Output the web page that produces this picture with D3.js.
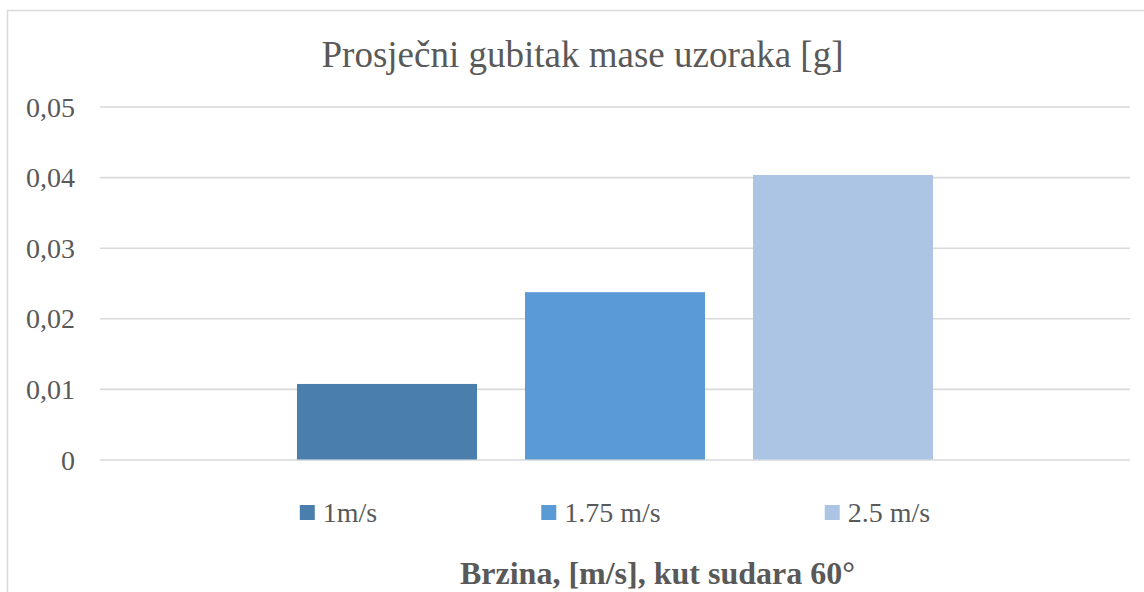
<!DOCTYPE html>
<html><head><meta charset="utf-8">
<script src="https://cdn.jsdelivr.net/npm/d3@7/dist/d3.min.js"></script>
<style>
html,body{margin:0;padding:0;background:#fff;}
svg{display:block;}
text{font-family:"Liberation Serif","Times New Roman",serif;fill:#595959;}
</style></head>
<body>
<svg id="chart" width="1144" height="592"></svg>
<script>
const categories = [""];
const seriesNames = ["1m/s", "1.75 m/s", "2.5 m/s"];
const seriesValues = [0.0107, 0.0237, 0.0403];
const seriesColors = ["#4a7ead", "#5a9ad5", "#adc5e5"];
const yTicks = [0, 0.01, 0.02, 0.03, 0.04, 0.05];
const yTickLabels = ["0", "0,01", "0,02", "0,03", "0,04", "0,05"];
const title = "Prosječni gubitak mase uzoraka [g]";
const xTitle = "Brzina, [m/s], kut sudara 60°";

const svg = d3.select("#chart");
const W = 1144, H = 592;
const plot = {left: 100, right: 1130, top: 106.5, bottom: 459.5};

// chart border
svg.append("rect").attr("x", 7.5).attr("y", 10.5).attr("width", W + 10).attr("height", H + 10)
  .attr("fill", "#fff").attr("stroke", "#d9d9d9").attr("stroke-width", 1.5);

const y = d3.scaleLinear().domain([0, 0.05]).range([plot.bottom, plot.top]);
const x0 = d3.scaleBand().domain(categories).range([plot.left, plot.right])
  .paddingInner(0).paddingOuter(0.3097);
const x1 = d3.scaleBand().domain(seriesNames).range([0, x0.bandwidth()])
  .paddingInner(0.2105).paddingOuter(0);

// gridlines
const yAxis = d3.axisLeft(y).tickValues(yTicks)
  .tickSize(-(plot.right - plot.left)).tickPadding(25)
  .tickFormat((d, i) => yTickLabels[i]);
const gy = svg.append("g").attr("transform", `translate(${plot.left},0)`).call(yAxis);
gy.attr("font-family", null);
gy.select(".domain").remove();
gy.selectAll(".tick line").attr("stroke", "#d9d9d9").attr("stroke-width", 1.6);
gy.selectAll(".tick text").attr("font-size", 28).attr("fill", "#595959").attr("dy", "0.34em");

// bars
const g = svg.append("g");
categories.forEach(c => {
  g.selectAll("rect.bar").data(seriesNames).enter().append("rect")
    .attr("class", "bar")
    .attr("x", s => x0(c) + x1(s))
    .attr("width", x1.bandwidth())
    .attr("y", (s, i) => y(seriesValues[i]))
    .attr("height", (s, i) => y(0) - y(seriesValues[i]))
    .attr("fill", (s, i) => seriesColors[i]);
});

// title
svg.append("text").attr("x", 582.5).attr("y", 67).attr("text-anchor", "middle")
  .attr("font-size", 37).text(title);

// legend
const leg = svg.append("g");
const items = leg.selectAll("g").data(seriesNames).enter().append("g");
items.append("rect").attr("width", 15).attr("height", 15).attr("y", 505)
  .attr("fill", (d, i) => seriesColors[i]);
items.append("text").attr("x", 23).attr("y", 522).attr("font-size", 28).text(d => d);
const widths = [];
items.each(function() { widths.push(23 + d3.select(this).select("text").node().getComputedTextLength()); });
const gap = 164;
const total = d3.sum(widths) + gap * (widths.length - 1);
let cx = (plot.left + plot.right) / 2 - total / 2;
items.each(function(d, i) {
  d3.select(this).attr("transform", `translate(${cx},0)`);
  cx += widths[i] + gap;
});

// x title
svg.append("text").attr("x", 657.5).attr("y", 584).attr("text-anchor", "middle")
  .attr("font-size", 32).attr("font-weight", "bold").text(xTitle);
</script>
</body></html>
